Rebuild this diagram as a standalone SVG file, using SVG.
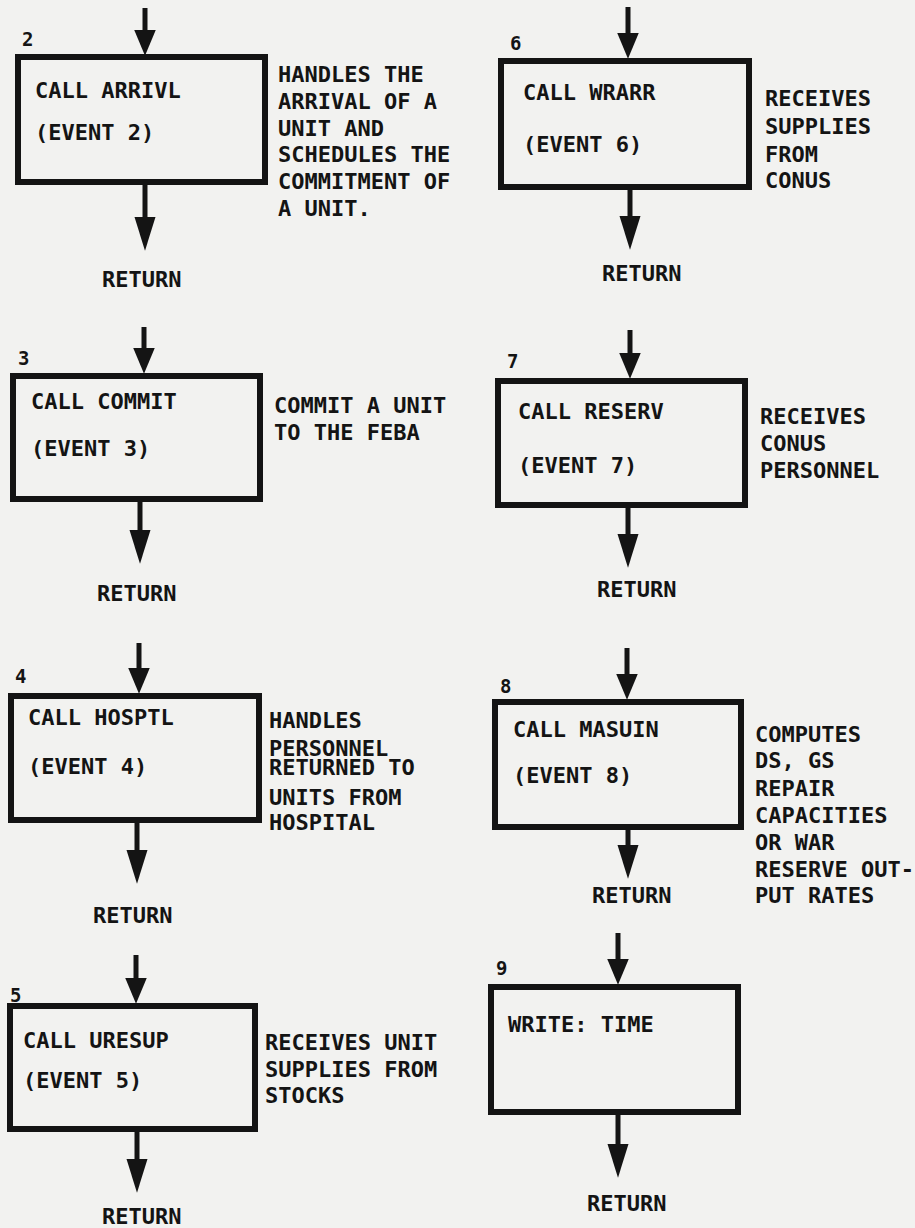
<svg xmlns="http://www.w3.org/2000/svg" width="915" height="1228" viewBox="0 0 915 1228">
<style>
  text { font-family: "DejaVu Sans Mono", "Liberation Mono", monospace; font-weight: bold; fill: #141414; }
  .t { font-size: 22px; }
  .n { font-size: 19px; }
  .box { fill: none; stroke: #141414; stroke-width: 6; }
  .shaft { stroke: #141414; stroke-width: 5; fill: none; }
  .in { marker-end: url(#headIn); }
  .out { marker-end: url(#headOut); }
</style>
<defs>
  <marker id="headIn" markerUnits="userSpaceOnUse" markerWidth="26" markerHeight="22" refX="14" refY="10" orient="auto" viewBox="0 0 24 20">
    <path d="M0,0 L24,10 L0,20 Z" fill="#141414"/>
  </marker>
  <marker id="headOut" markerUnits="userSpaceOnUse" markerWidth="34" markerHeight="22" refX="22" refY="10" orient="auto" viewBox="0 0 32 20">
    <path d="M0,0 L32,10 L0,20 Z" fill="#141414"/>
  </marker>
</defs>
<rect x="0" y="0" width="915" height="1228" fill="#f2f2f0"/>

<g id="connectors">
  <line class="shaft in" x1="145" y1="8" x2="145" y2="45"/>
  <line class="shaft out" x1="145" y1="185" x2="145" y2="240"/>
  <line class="shaft in" x1="628" y1="7" x2="628" y2="48"/>
  <line class="shaft out" x1="630" y1="190" x2="630" y2="239"/>
  <line class="shaft in" x1="144" y1="327" x2="144" y2="363"/>
  <line class="shaft out" x1="140" y1="502" x2="140" y2="553"/>
  <line class="shaft in" x1="630" y1="330" x2="630" y2="368"/>
  <line class="shaft out" x1="628" y1="508" x2="628" y2="557"/>
  <line class="shaft in" x1="139" y1="643" x2="139" y2="683"/>
  <line class="shaft out" x1="137" y1="823" x2="137" y2="873"/>
  <line class="shaft in" x1="627" y1="648" x2="627" y2="689"/>
  <line class="shaft out" x1="628" y1="830" x2="628" y2="868"/>
  <line class="shaft in" x1="136" y1="955" x2="136" y2="993"/>
  <line class="shaft out" x1="137" y1="1132" x2="137" y2="1182"/>
  <line class="shaft in" x1="618" y1="933" x2="618" y2="974"/>
  <line class="shaft out" x1="618" y1="1115" x2="618" y2="1167"/>
</g>

<g id="node2">
  <text class="n" x="22" y="46">2</text>
  <rect class="box" x="18" y="57" width="247" height="125"/>
  <text class="t" x="35" y="98">CALL ARRIVL</text>
  <text class="t" x="35" y="140">(EVENT 2)</text>
  <text class="t" x="278" y="82">HANDLES THE</text>
  <text class="t" x="278" y="109">ARRIVAL OF A</text>
  <text class="t" x="278" y="136">UNIT AND</text>
  <text class="t" x="278" y="162">SCHEDULES THE</text>
  <text class="t" x="278" y="189">COMMITMENT OF</text>
  <text class="t" x="278" y="216">A UNIT.</text>
  <text class="t" x="102" y="287">RETURN</text>
</g>

<g id="node6">
  <text class="n" x="510" y="50">6</text>
  <rect class="box" x="501" y="61" width="248" height="126"/>
  <text class="t" x="523" y="100">CALL WRARR</text>
  <text class="t" x="523" y="152">(EVENT 6)</text>
  <text class="t" x="765" y="106">RECEIVES</text>
  <text class="t" x="765" y="134">SUPPLIES</text>
  <text class="t" x="765" y="162">FROM</text>
  <text class="t" x="765" y="188">CONUS</text>
  <text class="t" x="602" y="281">RETURN</text>
</g>

<g id="node3">
  <text class="n" x="18" y="365">3</text>
  <rect class="box" x="13" y="376" width="247" height="123"/>
  <text class="t" x="31" y="409">CALL COMMIT</text>
  <text class="t" x="31" y="456">(EVENT 3)</text>
  <text class="t" x="274" y="413">COMMIT A UNIT</text>
  <text class="t" x="274" y="440">TO THE FEBA</text>
  <text class="t" x="97" y="601">RETURN</text>
</g>

<g id="node7">
  <text class="n" x="507" y="368">7</text>
  <rect class="box" x="498" y="381" width="247" height="124"/>
  <text class="t" x="518" y="419">CALL RESERV</text>
  <text class="t" x="518" y="473">(EVENT 7)</text>
  <text class="t" x="760" y="424">RECEIVES</text>
  <text class="t" x="760" y="451">CONUS</text>
  <text class="t" x="760" y="478">PERSONNEL</text>
  <text class="t" x="597" y="597">RETURN</text>
</g>

<g id="node4">
  <text class="n" x="15" y="683">4</text>
  <rect class="box" x="11" y="696" width="248" height="124"/>
  <text class="t" x="28" y="725">CALL HOSPTL</text>
  <text class="t" x="28" y="774">(EVENT 4)</text>
  <text class="t" x="269" y="728">HANDLES</text>
  <text class="t" x="269" y="756">PERSONNEL</text>
  <text class="t" x="269" y="775">RETURNED TO</text>
  <text class="t" x="269" y="805">UNITS FROM</text>
  <text class="t" x="269" y="830">HOSPITAL</text>
  <text class="t" x="93" y="923">RETURN</text>
</g>

<g id="node8">
  <text class="n" x="500" y="693">8</text>
  <rect class="box" x="495" y="702" width="246" height="125"/>
  <text class="t" x="513" y="737">CALL MASUIN</text>
  <text class="t" x="513" y="783">(EVENT 8)</text>
  <text class="t" x="755" y="742">COMPUTES</text>
  <text class="t" x="755" y="768">DS, GS</text>
  <text class="t" x="755" y="796">REPAIR</text>
  <text class="t" x="755" y="823">CAPACITIES</text>
  <text class="t" x="755" y="850">OR WAR</text>
  <text class="t" x="755" y="877">RESERVE OUT-</text>
  <text class="t" x="755" y="903">PUT RATES</text>
  <text class="t" x="592" y="903">RETURN</text>
</g>

<g id="node5">
  <text class="n" x="10" y="1002">5</text>
  <rect class="box" x="10" y="1006" width="245" height="123"/>
  <text class="t" x="23" y="1048">CALL URESUP</text>
  <text class="t" x="23" y="1088">(EVENT 5)</text>
  <text class="t" x="265" y="1050">RECEIVES UNIT</text>
  <text class="t" x="265" y="1077">SUPPLIES FROM</text>
  <text class="t" x="265" y="1103">STOCKS</text>
  <text class="t" x="102" y="1224">RETURN</text>
</g>

<g id="node9">
  <text class="n" x="496" y="975">9</text>
  <rect class="box" x="491" y="987" width="247" height="125"/>
  <text class="t" x="508" y="1032">WRITE: TIME</text>
  <text class="t" x="587" y="1211">RETURN</text>
</g>
</svg>
